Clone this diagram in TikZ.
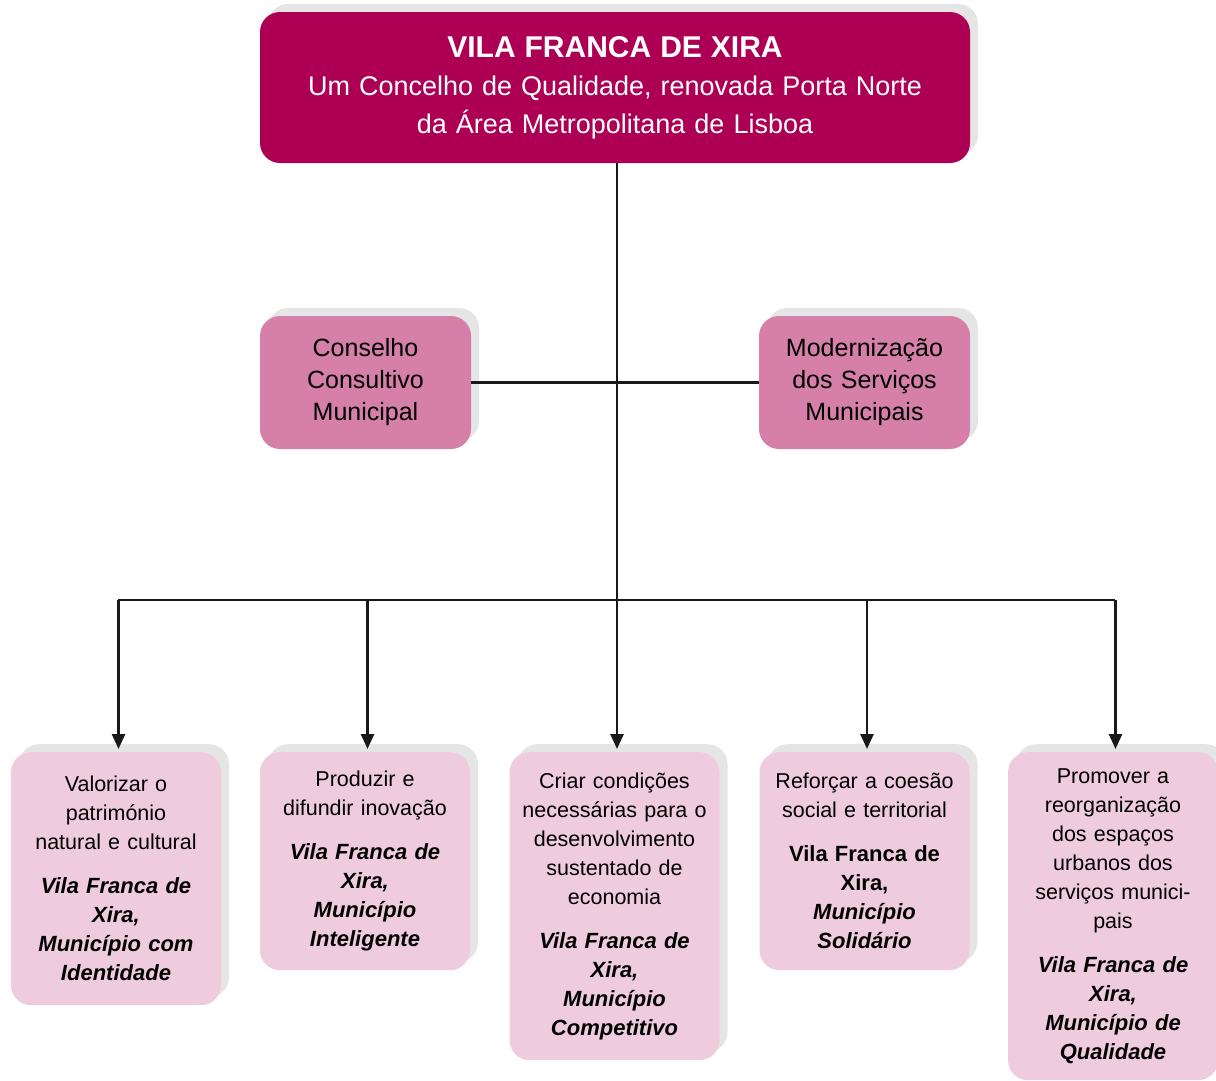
\documentclass[tikz,border=0pt]{standalone}
\usepackage{fontspec}
\setmainfont{Liberation Sans}
\usetikzlibrary{positioning,shadows,arrows.meta}
\definecolor{vfxmagenta}{RGB}{173,0,85}
\definecolor{vfxrose}{RGB}{213,127,169}
\definecolor{vfxpink}{RGB}{239,204,221}
\definecolor{vfxshadow}{RGB}{229,229,229}
\definecolor{vfxline}{RGB}{25,25,25}
\newcommand\lema{\fontsize{22}{29}\selectfont\bfseries\itshape}

\begin{document}
\begin{tikzpicture}[x=1pt,y=-1pt,
    caixa/.style={rounded corners=20pt, align=center, inner sep=4pt,
      drop shadow={shadow xshift=8pt,shadow yshift=8pt,fill=vfxshadow,opacity=1}},
    topo/.style={caixa, fill=vfxmagenta, text=white, text width=690pt,
      minimum width=710pt, minimum height=151pt, font=\fontsize{27}{38}\selectfont},
    orgao/.style={caixa, fill=vfxrose, text width=200pt,
      minimum width=211pt, minimum height=133pt, font=\fontsize{25}{32}\selectfont},
    eixo/.style={caixa, fill=vfxpink, text width=200pt, minimum width=210pt,
      anchor=north, font=\fontsize{21.5}{29}\selectfont},
    liga/.style={line width=2.6pt, draw=vfxline},
    seta/.style={liga, -{Triangle[length=15pt,width=13pt]}, shorten >=3pt}]
    \useasboundingbox (0,0) rectangle (1216,1080);
    % topo
    \node[topo] (vfx) at (615,87.5) {{\fontsize{30}{38}\selectfont\bfseries VILA FRANCA DE XIRA}\\
        Um Concelho de Qualidade, renovada Porta Norte\\da Área Metropolitana de Lisboa};
    % orgaos
    \node[orgao] (ccm) at (365.5,382.5) {Conselho\\Consultivo\\Municipal};
    \node[orgao] (msm) at (864.5,382.5) {Modernização\\dos Serviços\\Municipais};
    % eixos
    \node[eixo, minimum height=253pt] (valor) at (116,752) {Valorizar o\\património\\natural e cultural\\[15pt]
        \lema Vila Franca de\\Xira,\\Município com\\Identidade};
    \node[eixo, minimum height=218pt] (inov) at (365,752) {Produzir e\\difundir inovação\\[15pt]
        \lema Vila Franca de\\Xira,\\Município\\Inteligente};
    \node[eixo, minimum height=308pt] (econ) at (614.5,752) {Criar condições\\necessárias para o\\desenvolvimento\\sustentado de\\economia\\[15pt]
        \lema Vila Franca de\\Xira,\\Município\\Competitivo};
    \node[eixo, minimum height=218pt] (coesao) at (864.5,752) {Reforçar a coesão\\social e territorial\\[15pt]
        \fontsize{22}{29}\selectfont\bfseries Vila Franca de\\Xira,\\\itshape Município\\Solidário};
    \node[eixo, minimum height=328pt] (urban) at (1113,752) {Promover a\\reorganização\\dos espaços\\urbanos dos\\serviços munici-\\pais\\[15pt]
        \lema Vila Franca de\\Xira,\\Município de\\Qualidade};
    % ligacoes
    \coordinate (busw) at (118,600);
    \coordinate (buse) at (1115,600);
    \draw[liga] ([xshift=2pt]vfx.south) -- ([xshift=2pt]vfx.south |- busw);
    \draw[liga] (ccm) -- (msm);
    \draw[liga] (busw) -- (buse);
    \foreach \n in {valor,inov,econ,coesao,urban}
        \draw[seta] ([xshift=2.5pt]\n.north |- busw) -- ([xshift=2.5pt]\n.north);
\end{tikzpicture}
\end{document}
